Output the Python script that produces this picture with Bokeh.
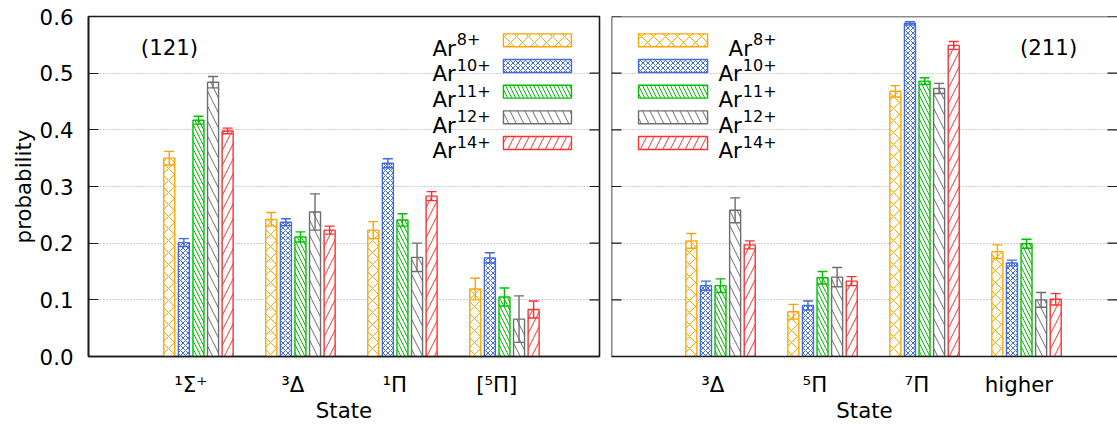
from bokeh.plotting import figure
from bokeh.models import (ColumnDataSource, Whisker, TeeHead, FixedTicker, LinearAxis,
                          Range1d, Label, Grid, PrintfTickFormatter, Span)
from bokeh.layouts import row
from bokeh.embed import file_html
from bokeh.resources import INLINE
from bokeh.core.properties import value

# ---------------- data ----------------
ion_name = "Ar"
charges = ["8+", "10+", "11+", "12+", "14+"]

states_121 = ["¹Σ⁺", "³Δ", "¹Π", "[⁵Π]"]
p121_ar8 = [0.350, 0.242, 0.223, 0.119]
e121_ar8 = [0.012, 0.012, 0.015, 0.019]
p121_ar10 = [0.201, 0.237, 0.341, 0.174]
e121_ar10 = [0.007, 0.006, 0.008, 0.009]
p121_ar11 = [0.417, 0.211, 0.241, 0.105]
e121_ar11 = [0.007, 0.009, 0.011, 0.016]
p121_ar12 = [0.484, 0.255, 0.175, 0.066]
e121_ar12 = [0.010, 0.032, 0.025, 0.041]
p121_ar14 = [0.398, 0.223, 0.283, 0.083]
e121_ar14 = [0.005, 0.007, 0.008, 0.015]

states_211 = ["³Δ", "⁵Π", "⁷Π", "higher"]
p211_ar8 = [0.204, 0.079, 0.468, 0.185]
e211_ar8 = [0.013, 0.013, 0.010, 0.012]
p211_ar10 = [0.125, 0.090, 0.588, 0.165]
e211_ar10 = [0.008, 0.008, 0.003, 0.005]
p211_ar11 = [0.125, 0.139, 0.486, 0.199]
e211_ar11 = [0.012, 0.011, 0.006, 0.008]
p211_ar12 = [0.258, 0.140, 0.473, 0.100]
e211_ar12 = [0.022, 0.017, 0.009, 0.013]
p211_ar14 = [0.197, 0.133, 0.549, 0.101]
e211_ar14 = [0.007, 0.008, 0.007, 0.010]

y_ticks = [0.0, 0.1, 0.2, 0.3, 0.4, 0.5, 0.6]

# ---------------- style ----------------
colors = ["#ffa500", "#4169e1", "#00c000", "#6e6e6e", "#ff3030"]
hatches = ["diagonal_cross", "diagonal_cross", "left_diagonal_line",
           "left_diagonal_line", "right_diagonal_line"]
hatch_scales = [12, 5, 8, 15, 15]
FONT = "DejaVu Sans"
FS = "16pt"
FS_PX = 21.33
SUP_FS = "12pt"
SUP_PX = 16.0
PX_PER_UNIT = 102.0
PX_PER_Y = 341.0 / 0.6
BAR_W = 0.108
BAR_STEP = 0.143
LABEL_SHIFT = -0.075
AX_COL = "#1a1a1a"
AX_W = 1.6
TICK_LEN = 10
HEIGHT = 425
# DejaVu Sans advance widths (em) used to place the superscripts
ADV = {"A": 0.684, "r": 0.411, "+": 0.838, "0": 0.636, "1": 0.636, "2": 0.636,
       "4": 0.636, "8": 0.636}


def text_w(s, px):
    return sum(ADV[c] for c in s) * px / PX_PER_UNIT


def make_panel(states, probs, errs, width, min_left, min_right, x_start,
               left_labels, tag, tag_x, legend_left):
    frame_w = width - min_left - min_right
    x_end = x_start + frame_w / PX_PER_UNIT
    p = figure(width=width, height=HEIGHT, x_range=Range1d(x_start, x_end),
               y_range=Range1d(0, 0.6), output_backend="svg", toolbar_location=None,
               x_axis_type=None, y_axis_type=None,
               min_border_left=min_left, min_border_right=min_right,
               min_border_top=16, min_border_bottom=68)
    p.background_fill_color = "white"
    p.border_fill_color = "white"

    yt = FixedTicker(ticks=y_ticks)
    p.add_layout(Grid(dimension=1, ticker=yt, grid_line_color="#9a9a9a",
                      grid_line_dash="1 2", grid_line_width=1))

    tick_w = TICK_LEN / PX_PER_UNIT
    if left_labels:
        p.outline_line_color = AX_COL
        p.outline_line_width = AX_W
        la = LinearAxis(ticker=yt, formatter=PrintfTickFormatter(format="%.1f"),
                        major_tick_in=TICK_LEN, major_tick_out=0,
                        minor_tick_line_color=None,
                        axis_line_color=AX_COL, axis_line_width=AX_W,
                        major_tick_line_color=AX_COL, major_tick_line_width=1.2,
                        major_label_text_font=FONT, major_label_text_font_size=FS,
                        major_label_text_color="black", major_label_standoff=15,
                        axis_label="probability", axis_label_text_font=FONT,
                        axis_label_text_font_size=FS, axis_label_text_color="black",
                        axis_label_text_font_style="normal",
                        axis_label_standoff=1)
        p.add_layout(la, "left")
    else:
        p.outline_line_color = None
        p.segment(x0=[x_start] * len(y_ticks), y0=y_ticks,
                  x1=[x_start + tick_w] * len(y_ticks), y1=y_ticks,
                  line_color=AX_COL, line_width=1.2)
        p.add_layout(Span(location=0.6, dimension="width", line_color=AX_COL,
                          line_width=AX_W))
        p.add_layout(Span(location=x_start, dimension="height", line_color=AX_COL,
                          line_width=AX_W))
    # right-side inward ticks
    p.segment(x0=[x_end - tick_w] * len(y_ticks), y0=y_ticks,
              x1=[x_end] * len(y_ticks), y1=y_ticks,
              line_color=AX_COL, line_width=1.2)

    # bottom axis with the state names
    xt = [i + 1 + LABEL_SHIFT for i in range(len(states))]
    ba = LinearAxis(ticker=FixedTicker(ticks=xt),
                    major_label_overrides={t: s for t, s in zip(xt, states)},
                    major_tick_line_color=None, minor_tick_line_color=None,
                    axis_line_color=AX_COL, axis_line_width=AX_W,
                    major_label_text_font=FONT, major_label_text_font_size=FS,
                    major_label_text_color="black", major_label_standoff=9,
                    axis_label="State", axis_label_text_font=FONT,
                    axis_label_text_font_size=FS, axis_label_text_color="black",
                    axis_label_text_font_style="normal",
                    axis_label_standoff=-2)
    p.add_layout(ba, "below")

    # bars + error bars
    for k in range(5):
        xs = [i + 1 + (k - 2) * BAR_STEP for i in range(len(states))]
        src = ColumnDataSource(dict(
            x=xs, top=probs[k],
            upper=[v + e for v, e in zip(probs[k], errs[k])],
            lower=[v - e for v, e in zip(probs[k], errs[k])]))
        p.vbar(x="x", top="top", bottom=0, width=BAR_W, source=src,
               fill_color="white", line_color=colors[k], line_width=1.4,
               hatch_pattern=hatches[k], hatch_color=colors[k],
               hatch_scale=hatch_scales[k], hatch_weight=1)
        w = Whisker(source=src, base="x", upper="upper", lower="lower",
                    dimension="height", line_color=colors[k], line_width=1.4,
                    level="overlay",
                    upper_head=TeeHead(size=10, line_color=colors[k], line_width=1.4),
                    lower_head=TeeHead(size=10, line_color=colors[k], line_width=1.4))
        p.add_layout(w)

    # legend: swatch + "Ar" with superscript charge
    row_y = [0.558 - k * 0.0453 for k in range(5)]
    half_h = 0.0114
    base_dy = 8 / PX_PER_Y      # main baseline below row centre
    sup_dy = -1 / PX_PER_Y      # superscript baseline above row centre
    if legend_left:
        sw_l, sw_r, tx = 3.99, 4.657, 3.294
    else:
        sw_l, sw_r, tx = 0.196, 0.873, 1.539
    name_w = text_w(ion_name, FS_PX)
    for k in range(5):
        p.quad(left=[sw_l], right=[sw_r], top=[row_y[k] + half_h],
               bottom=[row_y[k] - half_h], fill_color="white",
               line_color=colors[k], line_width=1.4,
               hatch_pattern=hatches[k], hatch_color=colors[k],
               hatch_scale=hatch_scales[k], hatch_weight=1)
        if legend_left:
            x_name = tx
        else:
            x_name = tx - text_w(charges[k], SUP_PX) - name_w
        p.text(x=[x_name], y=[row_y[k] - base_dy], text=[ion_name],
               text_font=value(FONT), text_font_size=FS, text_align="left",
               text_baseline="alphabetic", text_color="black")
        p.text(x=[x_name + name_w + 0.01], y=[row_y[k] - sup_dy], text=[charges[k]],
               text_font=value(FONT), text_font_size=SUP_FS, text_align="left",
               text_baseline="alphabetic", text_color="black")

    p.add_layout(Label(x=tag_x, y=0.545, text=tag, text_font=FONT,
                       text_font_size=FS, text_align="center",
                       text_baseline="middle", text_color="black"))
    return p


p1 = make_panel(states_121,
                [p121_ar8, p121_ar10, p121_ar11, p121_ar12, p121_ar14],
                [e121_ar8, e121_ar10, e121_ar11, e121_ar12, e121_ar14],
                width=605, min_left=88, min_right=6, x_start=-0.078,
                left_labels=True, tag="(121)", tag_x=0.716, legend_left=True)
p2 = make_panel(states_211,
                [p211_ar8, p211_ar10, p211_ar11, p211_ar12, p211_ar14],
                [e211_ar8, e211_ar10, e211_ar11, e211_ar12, e211_ar14],
                width=512, min_left=6, min_right=0, x_start=-0.069,
                left_labels=False, tag="(211)", tag_x=4.216, legend_left=False)

layout = row(p1, p2)
open("out.html", "w").write(file_html(layout, INLINE))
